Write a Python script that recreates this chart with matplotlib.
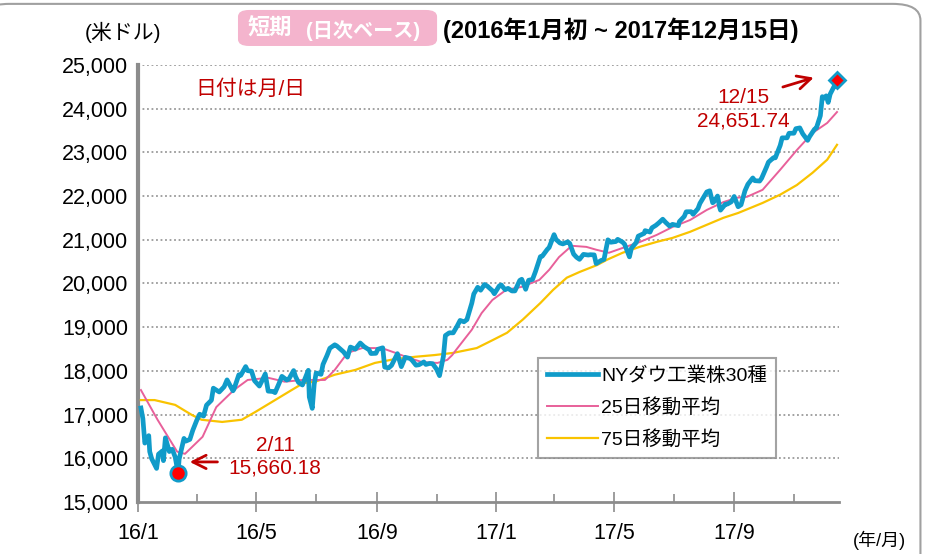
import matplotlib
matplotlib.use("Agg")
import matplotlib.pyplot as plt
import matplotlib.dates as mdates
from matplotlib.patches import FancyBboxPatch
from matplotlib.ticker import FuncFormatter, FixedLocator
import pandas as pd

plt.rcParams['font.family'] = ['Liberation Sans', 'Noto Sans CJK JP', 'DejaVu Sans']

# ---------------- data ----------------
dow_dates = [
 "2016-01-04","2016-01-06","2016-01-08","2016-01-12","2016-01-13","2016-01-15","2016-01-20","2016-01-22",
 "2016-01-26","2016-01-27","2016-01-29","2016-02-02","2016-02-05","2016-02-08","2016-02-11","2016-02-12",
 "2016-02-17","2016-02-19","2016-02-23","2016-02-26","2016-03-01","2016-03-04","2016-03-08","2016-03-11",
 "2016-03-16","2016-03-18","2016-03-24","2016-03-29","2016-04-01","2016-04-07","2016-04-08","2016-04-13",
 "2016-04-15","2016-04-20","2016-04-22","2016-04-26","2016-04-29","2016-05-04","2016-05-06","2016-05-10",
 "2016-05-13","2016-05-18","2016-05-20","2016-05-24","2016-05-27","2016-06-01","2016-06-03","2016-06-08",
 "2016-06-10","2016-06-13","2016-06-17","2016-06-23","2016-06-24","2016-06-27","2016-06-29","2016-07-01",
 "2016-07-06","2016-07-08","2016-07-12","2016-07-15","2016-07-20","2016-07-22","2016-07-27","2016-07-29",
 "2016-08-02","2016-08-05","2016-08-10","2016-08-15","2016-08-19","2016-08-24","2016-08-26","2016-08-31",
 "2016-09-02","2016-09-07","2016-09-09","2016-09-13","2016-09-16","2016-09-22","2016-09-26","2016-09-30",
 "2016-10-05","2016-10-07","2016-10-11","2016-10-14","2016-10-19","2016-10-21","2016-10-25","2016-10-28",
 "2016-11-01","2016-11-04","2016-11-08","2016-11-10","2016-11-14","2016-11-18","2016-11-22","2016-11-25",
 "2016-11-29","2016-12-02","2016-12-07","2016-12-09","2016-12-13","2016-12-16","2016-12-20","2016-12-23",
 "2016-12-28","2016-12-30",
 "2017-01-04","2017-01-06","2017-01-10","2017-01-13","2017-01-17","2017-01-20","2017-01-25","2017-01-27",
 "2017-01-31","2017-02-03","2017-02-07","2017-02-10","2017-02-15","2017-02-17","2017-02-22","2017-02-24",
 "2017-03-01","2017-03-03","2017-03-07","2017-03-10","2017-03-15","2017-03-17","2017-03-21","2017-03-24",
 "2017-03-27","2017-03-31","2017-04-05","2017-04-07","2017-04-11","2017-04-13","2017-04-18","2017-04-21",
 "2017-04-25","2017-04-28","2017-05-03","2017-05-05","2017-05-10","2017-05-12","2017-05-17","2017-05-19",
 "2017-05-24","2017-05-26","2017-06-01","2017-06-02","2017-06-07","2017-06-09","2017-06-13","2017-06-16",
 "2017-06-20","2017-06-23","2017-06-27","2017-06-30","2017-07-06","2017-07-07","2017-07-12","2017-07-14",
 "2017-07-19","2017-07-21","2017-07-26","2017-07-28","2017-08-02","2017-08-04","2017-08-07","2017-08-10",
 "2017-08-11","2017-08-15","2017-08-17","2017-08-18","2017-08-23","2017-08-25","2017-08-29","2017-09-01",
 "2017-09-05","2017-09-08","2017-09-12","2017-09-15","2017-09-20","2017-09-22","2017-09-27","2017-09-29",
 "2017-10-04","2017-10-06","2017-10-11","2017-10-13","2017-10-18","2017-10-20","2017-10-25","2017-10-27",
 "2017-11-01","2017-11-03","2017-11-07","2017-11-10","2017-11-15","2017-11-17","2017-11-22","2017-11-24",
 "2017-11-28","2017-11-30","2017-12-01","2017-12-04","2017-12-06","2017-12-08","2017-12-12","2017-12-13",
 "2017-12-14","2017-12-15"]
dow_values = [
 17149,16907,16346,16516,16151,15988,15766,16093,
 16167,15944,16466,16153,16205,16027,15660,15974,
 16453,16392,16431,16640,16865,17006,16964,17213,
 17326,17602,17516,17634,17792,17542,17577,17908,
 17897,18096,18003,17991,17774,17651,17740,17928,
 17535,17526,17500,17706,17873,17789,17807,18005,
 17865,17732,17675,18011,17400,17140,17695,17949,
 17919,18146,18347,18516,18595,18570,18473,18432,
 18313,18543,18495,18636,18552,18481,18395,18400,
 18492,18526,18085,18066,18124,18392,18094,18308,
 18281,18240,18128,18138,18202,18145,18169,18161,
 18037,17888,18332,18807,18869,18868,19023,19152,
 19121,19171,19549,19757,19911,19843,19974,19934,
 19833,19763,
 19942,19964,19855,19886,19826,19827,20069,20094,
 19864,20071,20090,20269,20611,20624,20775,20822,
 21115,21005,20924,20903,20950,20915,20669,20597,
 20550,20663,20648,20656,20651,20453,20523,20548,
 20996,20941,20957,21007,20943,20897,20607,20804,
 20937,21080,21144,21206,21174,21272,21328,21384,
 21468,21395,21311,21350,21320,21414,21532,21638,
 21640,21580,21711,21830,22016,22092,22118,21844,
 21858,21998,21751,21675,21812,21814,21865,21988,
 21753,21798,22118,22268,22412,22350,22341,22405,
 22661,22774,22872,22872,23157,23329,23329,23434,
 23435,23539,23557,23422,23272,23358,23526,23558,
 23836,24272,24231,24290,24140,24329,24504,24585,
 24509,24651.74]

ma25_dates = ["2016-01-04","2016-01-21","2016-02-10","2016-02-18","2016-03-07","2016-03-21","2016-04-08",
 "2016-04-22","2016-05-13","2016-05-30","2016-06-17","2016-07-10","2016-07-20","2016-08-02","2016-08-17",
 "2016-09-06","2016-09-20","2016-10-03","2016-10-17","2016-11-02","2016-11-12","2016-11-17","2016-11-21",
 "2016-12-07","2016-12-17","2016-12-28","2017-01-11","2017-01-27","2017-02-14","2017-02-24","2017-03-06",
 "2017-03-19","2017-04-03","2017-04-13","2017-04-26","2017-05-10","2017-05-28","2017-06-14","2017-06-30",
 "2017-07-18","2017-08-04","2017-08-21","2017-09-04","2017-09-14","2017-09-30","2017-10-18","2017-11-04",
 "2017-11-20","2017-12-05","2017-12-15"]
ma25_values = [17560,16880,16150,16100,16490,17170,17560,
 17790,17840,17750,17790,17790,18020,18410,18520,
 18520,18410,18300,18200,18180,18250,18360,18480,
 18940,19320,19620,19850,19920,20080,20310,20600,
 20860,20835,20770,20700,20810,20950,21110,21290,
 21450,21680,21860,21960,21980,22140,22600,23050,
 23440,23670,23920]

ma75_dates = ["2016-01-04","2016-01-18","2016-02-08","2016-02-25","2016-03-06","2016-03-27","2016-04-16",
 "2016-04-30","2016-05-20","2016-06-06","2016-06-18","2016-06-30","2016-07-20","2016-08-10","2016-08-30",
 "2016-09-20","2016-10-10","2016-10-30","2016-11-18","2016-12-12","2016-12-29","2017-01-12","2017-01-28",
 "2017-02-15","2017-02-28","2017-03-14","2017-03-27","2017-04-14","2017-04-24","2017-05-10","2017-05-28",
 "2017-06-14","2017-06-30","2017-07-18","2017-08-04","2017-08-21","2017-09-05","2017-09-30","2017-10-18",
 "2017-11-04","2017-11-20","2017-12-05","2017-12-15"]
ma75_values = [17330,17330,17220,16990,16880,16830,16880,
 17060,17330,17560,17720,17750,17910,18020,18180,
 18270,18320,18360,18410,18520,18710,18870,19170,
 19550,19850,20130,20260,20420,20540,20700,20840,
 20950,21040,21180,21340,21500,21610,21840,22030,
 22250,22530,22830,23170]

series_labels = ["NYダウ工業株30種", "25日移動平均", "75日移動平均"]
tick_dates = ["2016-01-01","2016-05-01","2016-09-01","2017-01-01","2017-05-01","2017-09-01"]
tick_labels = ["16/1","16/5","16/9","17/1","17/5","17/9"]
minor_dates = ["2016-03-01","2016-07-01","2016-11-01","2017-03-01","2017-07-01","2017-11-01"]
low_date, low_value = "2016-02-11", 15660.18
high_date, high_value = "2017-12-15", 24651.74

# ---------------- figure ----------------
fig = plt.figure(figsize=(9.26, 5.54), dpi=100)
fig.patch.set_facecolor('white')
border = FancyBboxPatch((-0.02, -0.05), 1.014, 1.043, boxstyle="round,pad=0,rounding_size=0.03",
                        transform=fig.transFigure, fill=False, edgecolor='#a0a0a0', linewidth=1.5)
fig.patches.append(border)

ax = fig.add_axes([0.149, 0.094, 0.757, 0.789])

dd = pd.to_datetime(dow_dates)
l75, = ax.plot(pd.to_datetime(ma75_dates), ma75_values, color='#f9c300', lw=1.6, zorder=3)
l25, = ax.plot(pd.to_datetime(ma25_dates), ma25_values, color='#e8609a', lw=1.4, zorder=4)
ldow, = ax.plot(dd, dow_values, color='#109bc9', lw=3.4, zorder=5, solid_joinstyle='round')

ax.plot(pd.to_datetime([low_date]), [low_value], 'o', ms=11, mfc='#ff0000', mec='#109bc9', mew=2, zorder=7, clip_on=False)
ax.plot(pd.to_datetime([high_date]), [high_value], 'D', ms=8, mfc='#ff0000', mec='#109bc9', mew=2, zorder=7, clip_on=False)

ax.set_xlim(pd.Timestamp("2016-01-01"), pd.Timestamp("2017-12-17"))
ax.set_ylim(15000, 25000)
ax.set_yticks(range(15000, 25001, 1000))
ax.yaxis.set_major_formatter(FuncFormatter(lambda v, p: f"{int(v):,}"))
for yv in range(16000, 25001, 1000):
    ax.axhline(yv, color='#9a9a9a', lw=1.3, ls=(0, (1, 1.5)), zorder=1)

ax.xaxis.set_major_locator(FixedLocator(mdates.date2num(pd.to_datetime(tick_dates))))
ax.xaxis.set_minor_locator(FixedLocator(mdates.date2num(pd.to_datetime(minor_dates))))
ax.set_xticklabels(tick_labels)

for s in ['top', 'right']:
    ax.spines[s].set_visible(False)
ax.spines['left'].set_color('#8c8c8c')
ax.spines['left'].set_linewidth(3)
ax.spines['bottom'].set_color('#8c8c8c')
ax.spines['bottom'].set_linewidth(2)
ax.tick_params(axis='y', length=0, labelsize=15.5, pad=7)
ax.tick_params(axis='x', which='major', direction='inout', length=14, width=1.2, color='#8c8c8c', labelsize=15.5, pad=8)
ax.tick_params(axis='x', which='minor', direction='in', length=6, width=1.2, color='#8c8c8c')

# annotations
red = '#c00000'
ax.text(0.082, 0.945, "日付は月/日", transform=ax.transAxes, color=red, fontsize=15, va='center', ha='left')
ax.annotate("", xy=(pd.Timestamp("2016-02-20"), 15915), xytext=(pd.Timestamp("2016-03-25"), 15915),
            arrowprops=dict(arrowstyle='->', color=red, lw=2, mutation_scale=24))
ax.text(pd.Timestamp("2016-05-20"), 16300, "2/11", color=red, fontsize=15, ha='center', va='center')
ax.text(pd.Timestamp("2016-05-20"), 15780, "15,660.18", color=red, fontsize=15, ha='center', va='center')
ax.annotate("", xy=(pd.Timestamp("2017-11-24"), 24725), xytext=(pd.Timestamp("2017-10-18"), 24474),
            arrowprops=dict(arrowstyle='->', color=red, lw=2, mutation_scale=24))
ax.text(pd.Timestamp("2017-09-10"), 24250, "12/15", color=red, fontsize=15, ha='center', va='center')
ax.text(pd.Timestamp("2017-09-10"), 23720, "24,651.74", color=red, fontsize=15, ha='center', va='center')

leg = ax.legend([ldow, l25, l75], series_labels, loc='lower left',
                bbox_to_anchor=(0.571, 0.1007), fontsize=14, frameon=True, fancybox=False,
                edgecolor='#8c8c8c', handlelength=2.6, borderpad=0.45, labelspacing=0.68,
                handletextpad=0.2, borderaxespad=0)
leg.get_frame().set_linewidth(1.5)
leg.set_zorder(10)

# header texts
fig.text(0.092, 0.942, "(米ドル)", fontsize=15, ha='left', va='center')
pink = FancyBboxPatch((0.257, 0.917), 0.215, 0.065, boxstyle="round,pad=0,rounding_size=0.012",
                      transform=fig.transFigure, facecolor='#f4b4cd', edgecolor='none')
fig.patches.append(pink)
fig.text(0.267, 0.947, "短期", fontsize=16, ha='left', va='center', color='white', fontweight='bold')
fig.text(0.330, 0.945, "(日次ベース)", fontsize=14.5, ha='left', va='center', color='white', fontweight='bold')
fig.text(0.478, 0.945, "(2016年1月初 ~ 2017年12月15日)", fontsize=17, ha='left', va='center',
         color='black', fontweight='bold')
fig.text(0.921, 0.025, "(年/月)", fontsize=13, ha='left', va='center')

fig.savefig("out.png", dpi=100)
